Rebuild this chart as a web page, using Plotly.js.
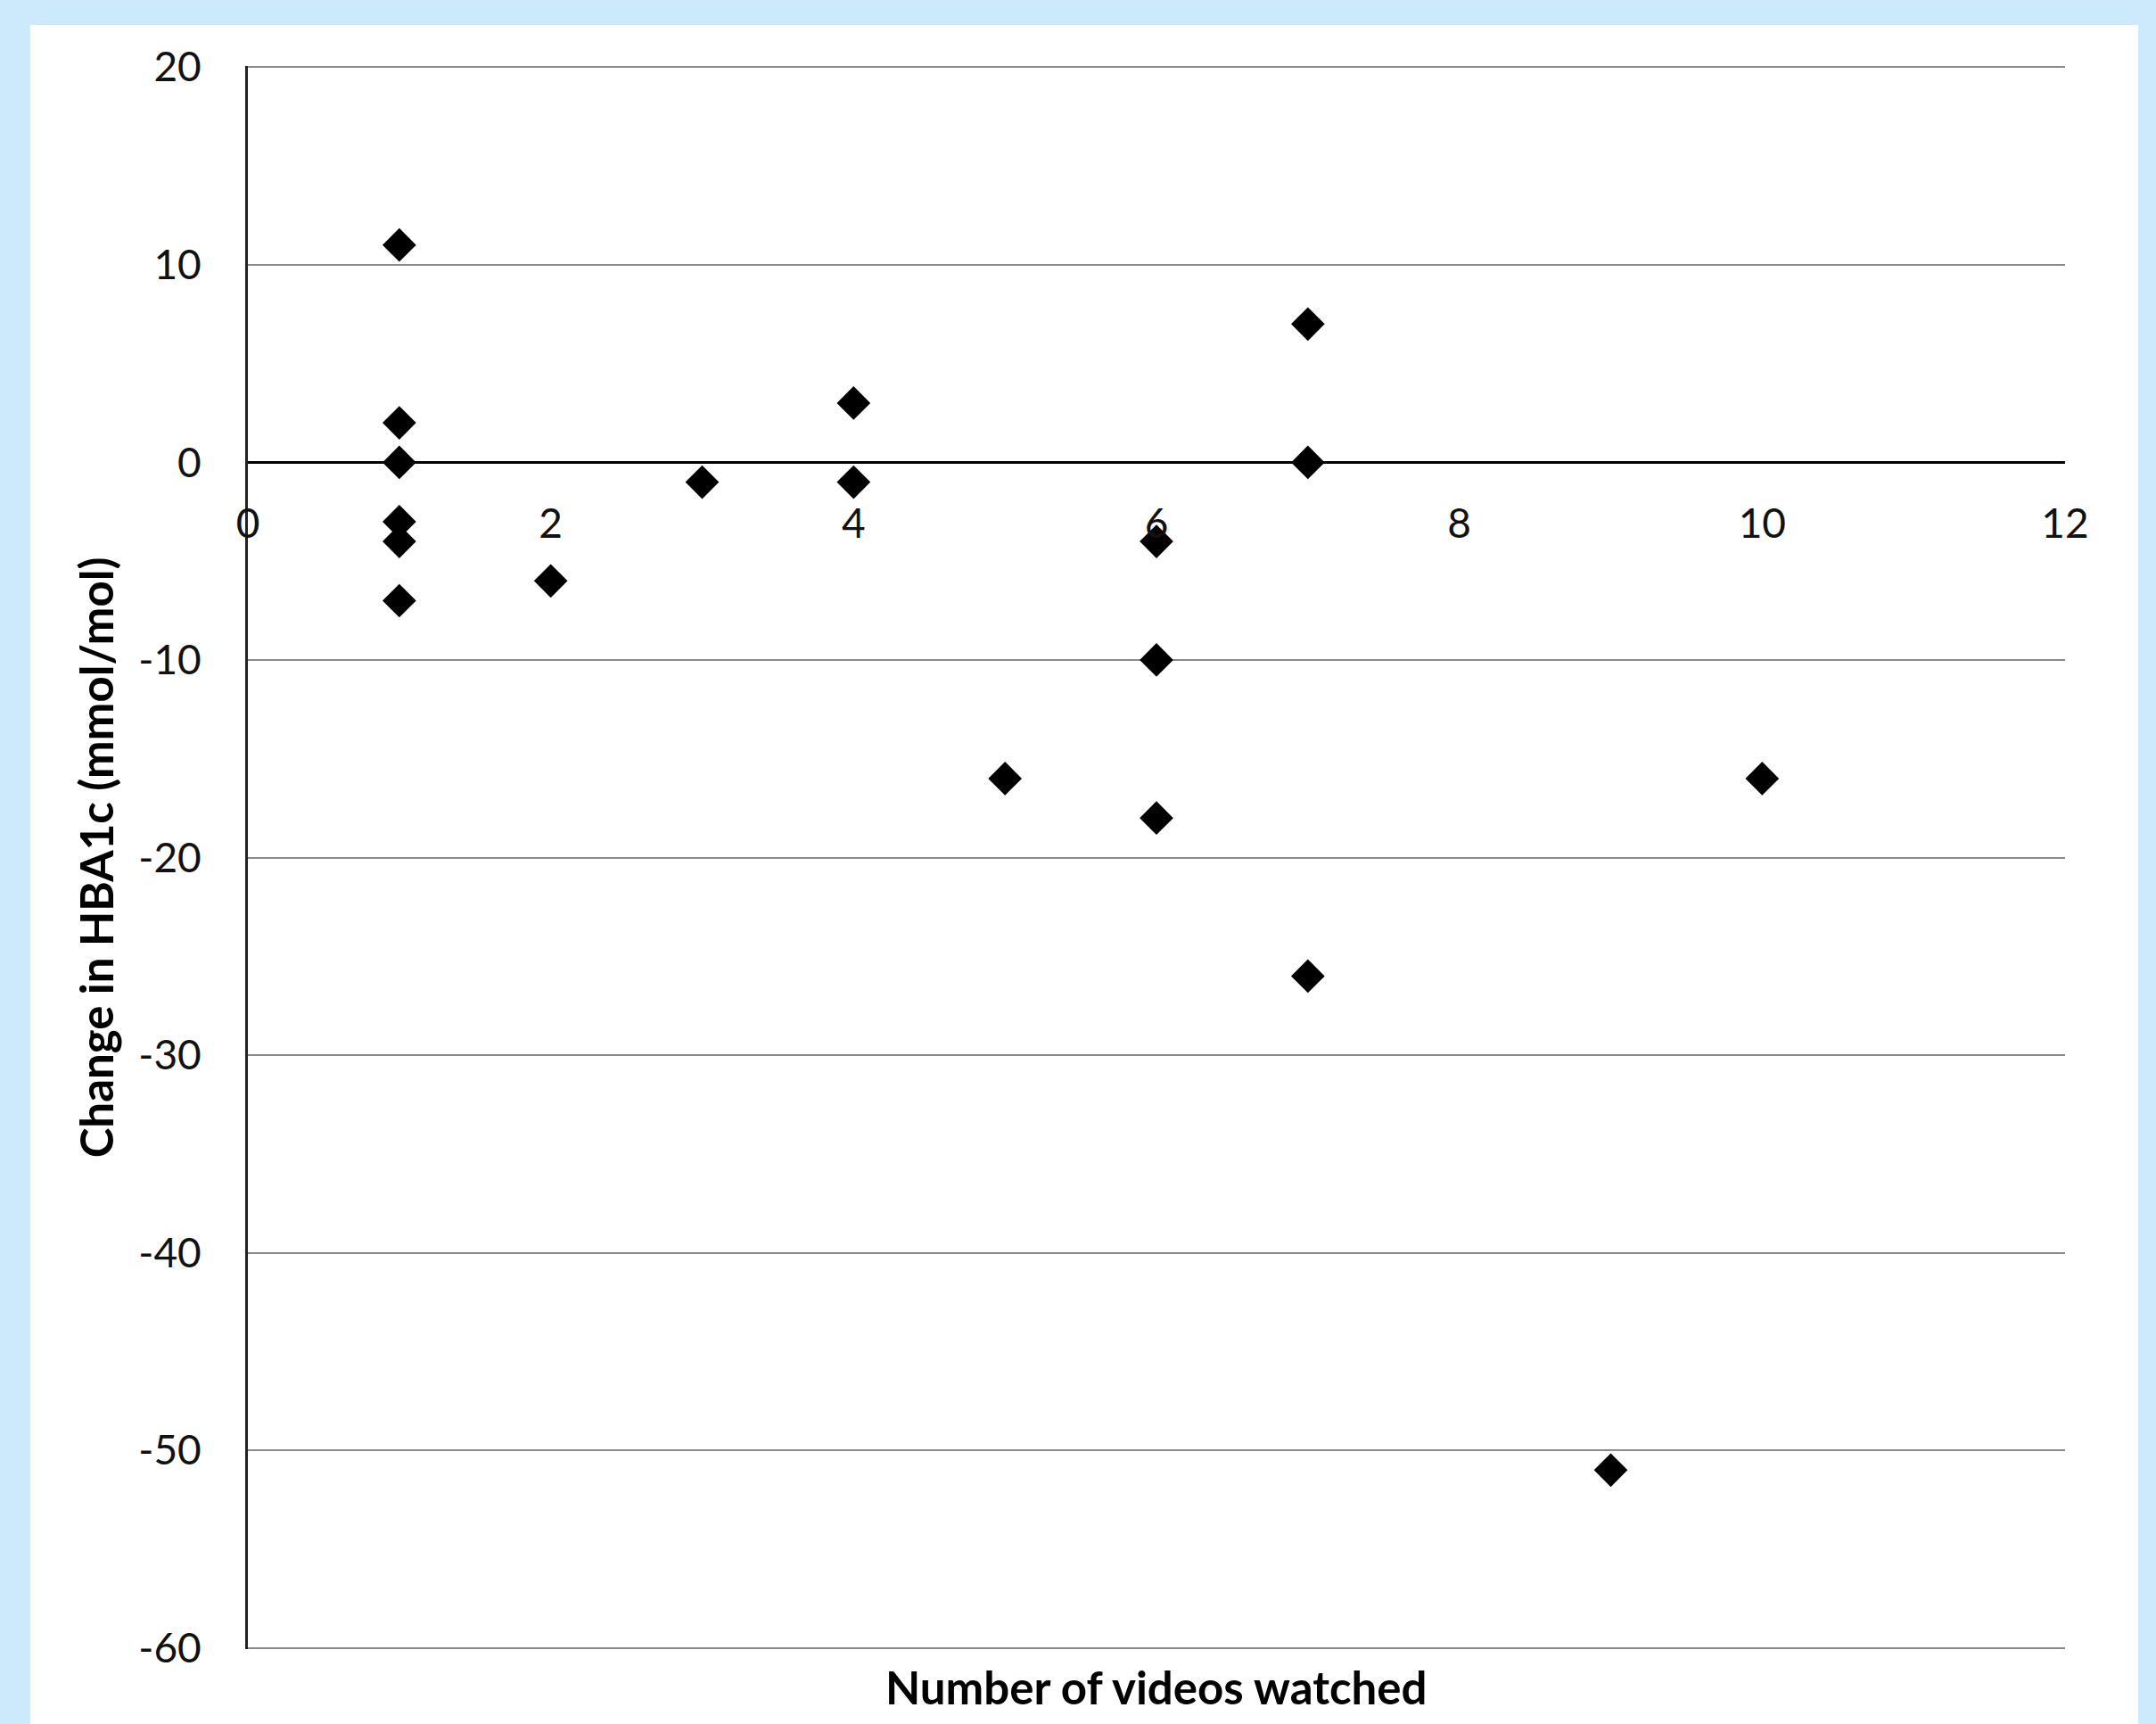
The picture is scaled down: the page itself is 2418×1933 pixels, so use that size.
<!DOCTYPE html>
<html>
<head>
<meta charset="utf-8">
<script src="https://cdn.plot.ly/plotly-3.0.1.min.js"></script>
<style>
  html, body { margin: 0; padding: 0; background: #cdeafc; width: 2418px; height: 1933px; overflow: hidden; }
  #chart { position: absolute; left: 34px; top: 28px; width: 2364px; height: 1905px; }
</style>
</head>
<body>
<div id="chart"></div>
<script>
// Data
const videosWatched = [1, 1, 1, 1, 1, 1, 2, 3, 4, 4, 5, 6, 6, 6, 7, 7, 7, 9, 10];
const hba1cChange   = [11, 2, 0, -3, -4, -7, -6, -1, 3, -1, -16, -4, -10, -18, 7, 0, -26, -51, -16];
const xTickValues = [0, 2, 4, 6, 8, 10, 12];
const yTickValues = [-60, -50, -40, -30, -20, -10, 0, 10, 20];
const xTitle = "Number of videos watched";
const yTitle = "Change in HBA1c (mmol/mol)";

const FONT = "Lato, 'Liberation Sans', sans-serif";

const trace = {
  type: "scatter",
  mode: "markers",
  x: videosWatched,
  y: hba1cChange,
  marker: { symbol: "diamond", size: 29, color: "#000000", line: { width: 0 } },
  hoverinfo: "x+y",
  showlegend: false
};

const layout = {
  width: 2364,
  height: 1905,
  paper_bgcolor: "#ffffff",
  plot_bgcolor: "#ffffff",
  margin: { l: 244, r: 82, t: 46, b: 84, pad: 0 },
  font: { family: FONT, color: "#000000" },
  xaxis: {
    range: [0, 12],
    tickvals: xTickValues,
    ticktext: xTickValues.map(String),
    showgrid: false,
    zeroline: false,
    showline: true,
    linecolor: "#000000",
    linewidth: 2,
    ticks: "",
    ticklabelstandoff: 29,
    anchor: "free",
    position: 0.75,
    tickfont: { family: FONT, size: 46, color: "#111111" },
    fixedrange: true
  },
  yaxis: {
    range: [-60.06, 20.06],
    tickvals: yTickValues,
    ticktext: yTickValues.map(String),
    showgrid: true,
    gridcolor: "#8a8a8a",
    gridwidth: 2,
    zeroline: true,
    zerolinecolor: "#000000",
    zerolinewidth: 3,
    showline: true,
    linecolor: "#222222",
    linewidth: 3,
    ticks: "",
    ticklabelstandoff: 40,
    tickfont: { family: FONT, size: 46, color: "#111111" },
    title: { text: yTitle, font: { family: FONT, size: 51, color: "#000000", weight: "bold" }, standoff: 12 },
    fixedrange: true
  },
  annotations: [
    {
      text: xTitle,
      xref: "paper", yref: "paper",
      x: 0.5, y: -0.0237,
      xanchor: "center", yanchor: "middle",
      showarrow: false,
      font: { family: FONT, size: 51, color: "#000000", weight: "bold" }
    }
  ]
};

Plotly.newPlot("chart", [trace], layout, { displayModeBar: false, staticPlot: true });
</script>
</body>
</html>
